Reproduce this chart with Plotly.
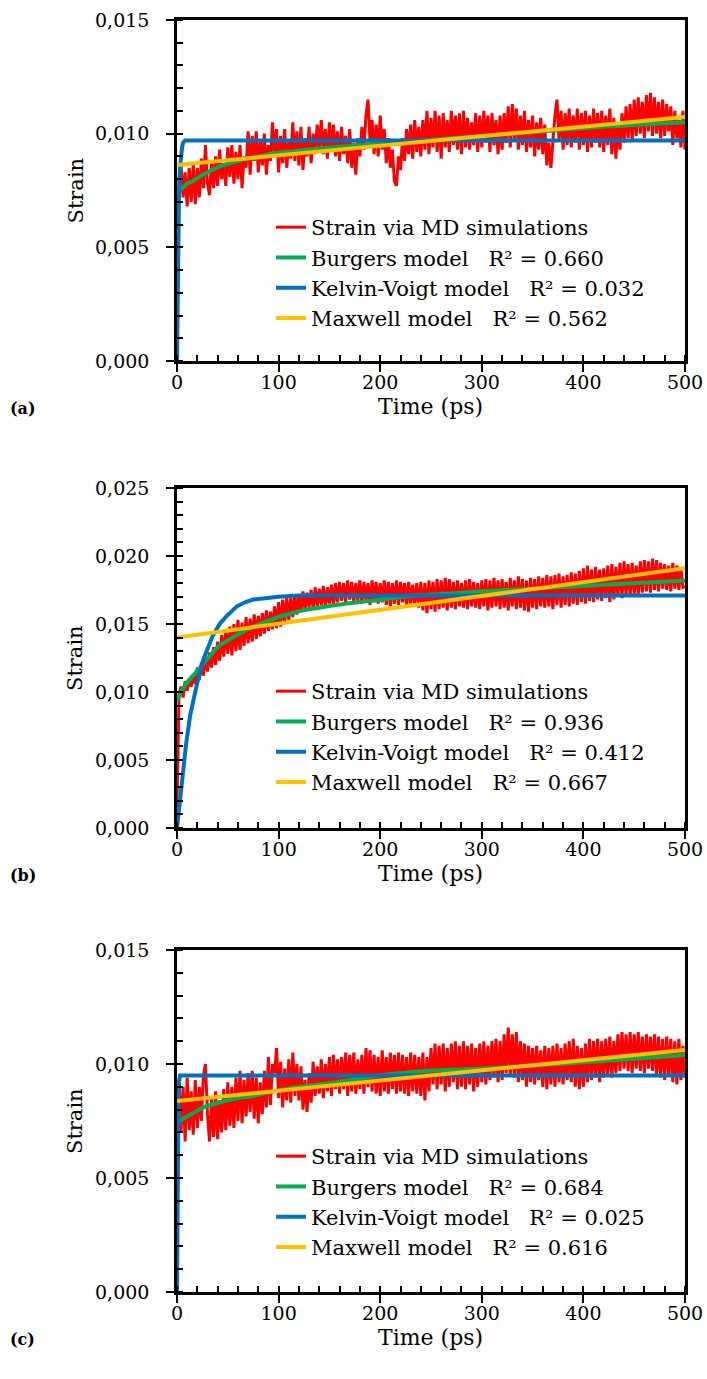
import plotly.graph_objects as go

# sample times of the MD strain traces (ps)
t_md = list(range(0, 501, 2))

strain_a = [
    0.0055, 0.0080, 0.0086, 0.0072, 0.0083, 0.0068, 0.0085, 0.0070, 0.0087, 0.0069,
    0.0085, 0.0072, 0.0089, 0.0076, 0.0095, 0.0078, 0.0073, 0.0088, 0.0076, 0.0090,
    0.0077, 0.0093, 0.0080, 0.0087, 0.0077, 0.0094, 0.0081, 0.0095, 0.0078, 0.0092,
    0.0080, 0.0095, 0.0076, 0.0090, 0.0085, 0.0101, 0.0082, 0.0099, 0.0088, 0.0101,
    0.0083, 0.0097, 0.0086, 0.0100, 0.0082, 0.0095, 0.0088, 0.0105, 0.0090, 0.0102,
    0.0083, 0.0099, 0.0087, 0.0102, 0.0085, 0.0097, 0.0089, 0.0105, 0.0088, 0.0101,
    0.0086, 0.0103, 0.0084, 0.0098, 0.0090, 0.0103, 0.0087, 0.0100, 0.0091, 0.0104,
    0.0093, 0.0106, 0.0091, 0.0102, 0.0089, 0.0105, 0.0092, 0.0104, 0.0090, 0.0101,
    0.0088, 0.0103, 0.0091, 0.0099, 0.0087, 0.0102, 0.0085, 0.0096, 0.0082, 0.0098,
    0.0090, 0.0103, 0.0093, 0.0108, 0.0115, 0.0097, 0.0106, 0.0091, 0.0104, 0.0090,
    0.0108, 0.0093, 0.0102, 0.0087, 0.0098, 0.0085, 0.0093, 0.0079, 0.0077, 0.0090,
    0.0084, 0.0098, 0.0088, 0.0102, 0.0091, 0.0104, 0.0089, 0.0106, 0.0092, 0.0103,
    0.0090, 0.0106, 0.0093, 0.0110, 0.0091, 0.0107, 0.0094, 0.0110, 0.0092, 0.0108,
    0.0089, 0.0109, 0.0094, 0.0106, 0.0092, 0.0110, 0.0095, 0.0108, 0.0093, 0.0109,
    0.0091, 0.0110, 0.0094, 0.0107, 0.0093, 0.0105, 0.0095, 0.0109, 0.0092, 0.0108,
    0.0094, 0.0110, 0.0096, 0.0108, 0.0092, 0.0109, 0.0095, 0.0106, 0.0091, 0.0108,
    0.0093, 0.0109, 0.0096, 0.0112, 0.0094, 0.0113, 0.0097, 0.0111, 0.0093, 0.0108,
    0.0095, 0.0110, 0.0092, 0.0106, 0.0094, 0.0108, 0.0090, 0.0105, 0.0093, 0.0107,
    0.0091, 0.0104, 0.0086, 0.0096, 0.0085, 0.0099, 0.0108, 0.0115, 0.0097, 0.0110,
    0.0093, 0.0109, 0.0095, 0.0111, 0.0094, 0.0108, 0.0096, 0.0111, 0.0093, 0.0109,
    0.0095, 0.0110, 0.0092, 0.0108, 0.0094, 0.0111, 0.0096, 0.0109, 0.0094, 0.0110,
    0.0092, 0.0108, 0.0095, 0.0111, 0.0091, 0.0107, 0.0089, 0.0105, 0.0093, 0.0109,
    0.0096, 0.0112, 0.0098, 0.0113, 0.0097, 0.0115, 0.0099, 0.0116, 0.0100, 0.0114,
    0.0098, 0.0117, 0.0101, 0.0118, 0.0099, 0.0116, 0.0100, 0.0114, 0.0098, 0.0115,
    0.0099, 0.0113, 0.0101, 0.0112, 0.0095, 0.0110, 0.0098, 0.0106, 0.0094, 0.0110,
    0.0093,
]

strain_b = [
    0.0015, 0.0098, 0.0104, 0.0096, 0.0108, 0.0101, 0.0110, 0.0104, 0.0113, 0.0106,
    0.0118, 0.0109, 0.0122, 0.0112, 0.0126, 0.0115, 0.0129, 0.0118, 0.0133, 0.0120,
    0.0137, 0.0123, 0.0142, 0.0126, 0.0146, 0.0128, 0.0148, 0.0127, 0.0150, 0.0130,
    0.0153, 0.0131, 0.0151, 0.0134, 0.0155, 0.0136, 0.0154, 0.0137, 0.0157, 0.0139,
    0.0156, 0.0141, 0.0158, 0.0143, 0.0160, 0.0145, 0.0159, 0.0146, 0.0163, 0.0147,
    0.0166, 0.0148, 0.0168, 0.0150, 0.0170, 0.0153, 0.0169, 0.0155, 0.0172, 0.0157,
    0.0171, 0.0159, 0.0174, 0.0160, 0.0173, 0.0162, 0.0175, 0.0161, 0.0177, 0.0163,
    0.0176, 0.0164, 0.0178, 0.0162, 0.0177, 0.0165, 0.0179, 0.0163, 0.0180, 0.0166,
    0.0181, 0.0167, 0.0180, 0.0166, 0.0182, 0.0168, 0.0181, 0.0166, 0.0180, 0.0167,
    0.0182, 0.0165, 0.0181, 0.0167, 0.0180, 0.0164, 0.0182, 0.0166, 0.0181, 0.0165,
    0.0180, 0.0166, 0.0182, 0.0164, 0.0181, 0.0163, 0.0180, 0.0165, 0.0182, 0.0164,
    0.0181, 0.0166, 0.0180, 0.0163, 0.0181, 0.0165, 0.0179, 0.0164, 0.0180, 0.0162,
    0.0181, 0.0160, 0.0180, 0.0158, 0.0182, 0.0161, 0.0181, 0.0159, 0.0183, 0.0161,
    0.0182, 0.0162, 0.0184, 0.0160, 0.0183, 0.0162, 0.0181, 0.0161, 0.0182, 0.0163,
    0.0180, 0.0162, 0.0182, 0.0161, 0.0183, 0.0163, 0.0181, 0.0162, 0.0180, 0.0161,
    0.0182, 0.0163, 0.0183, 0.0160, 0.0182, 0.0162, 0.0184, 0.0163, 0.0182, 0.0161,
    0.0183, 0.0162, 0.0181, 0.0160, 0.0184, 0.0163, 0.0182, 0.0161, 0.0185, 0.0162,
    0.0183, 0.0160, 0.0182, 0.0159, 0.0184, 0.0162, 0.0183, 0.0161, 0.0185, 0.0163,
    0.0184, 0.0162, 0.0186, 0.0163, 0.0185, 0.0161, 0.0186, 0.0164, 0.0187, 0.0162,
    0.0185, 0.0164, 0.0186, 0.0163, 0.0188, 0.0165, 0.0187, 0.0164, 0.0189, 0.0166,
    0.0191, 0.0165, 0.0193, 0.0167, 0.0190, 0.0166, 0.0192, 0.0168, 0.0190, 0.0167,
    0.0191, 0.0169, 0.0193, 0.0166, 0.0194, 0.0168, 0.0192, 0.0170, 0.0195, 0.0169,
    0.0196, 0.0171, 0.0194, 0.0170, 0.0195, 0.0172, 0.0193, 0.0171, 0.0196, 0.0173,
    0.0197, 0.0174, 0.0196, 0.0173, 0.0198, 0.0175, 0.0197, 0.0174, 0.0195, 0.0176,
    0.0194, 0.0175, 0.0193, 0.0174, 0.0195, 0.0176, 0.0193, 0.0175, 0.0191, 0.0177,
    0.0178,
]

strain_c = [
    0.0060, 0.0093, 0.0070, 0.0090, 0.0066, 0.0094, 0.0071, 0.0088, 0.0069, 0.0093,
    0.0072, 0.0090, 0.0075, 0.0095, 0.0100, 0.0078, 0.0066, 0.0085, 0.0068, 0.0088,
    0.0067, 0.0084, 0.0070, 0.0089, 0.0071, 0.0092, 0.0073, 0.0090, 0.0072, 0.0094,
    0.0075, 0.0097, 0.0074, 0.0093, 0.0077, 0.0096, 0.0079, 0.0097, 0.0076, 0.0094,
    0.0074, 0.0092, 0.0078, 0.0097, 0.0081, 0.0103, 0.0082, 0.0100, 0.0096, 0.0107,
    0.0085, 0.0101, 0.0081, 0.0098, 0.0084, 0.0102, 0.0083, 0.0105, 0.0086, 0.0100,
    0.0084, 0.0099, 0.0080, 0.0093, 0.0079, 0.0096, 0.0083, 0.0101, 0.0086, 0.0099,
    0.0087, 0.0102, 0.0085, 0.0100, 0.0088, 0.0103, 0.0086, 0.0104, 0.0089, 0.0102,
    0.0087, 0.0103, 0.0089, 0.0105, 0.0086, 0.0104, 0.0088, 0.0105, 0.0087, 0.0102,
    0.0089, 0.0104, 0.0087, 0.0107, 0.0090, 0.0106, 0.0088, 0.0104, 0.0087, 0.0103,
    0.0086, 0.0106, 0.0088, 0.0103, 0.0087, 0.0105, 0.0089, 0.0104, 0.0087, 0.0105,
    0.0088, 0.0104, 0.0087, 0.0103, 0.0086, 0.0105, 0.0088, 0.0104, 0.0087, 0.0103,
    0.0086, 0.0105, 0.0084, 0.0103, 0.0088, 0.0107, 0.0091, 0.0109, 0.0089, 0.0108,
    0.0091, 0.0109, 0.0088, 0.0107, 0.0090, 0.0109, 0.0092, 0.0110, 0.0089, 0.0108,
    0.0090, 0.0110, 0.0089, 0.0108, 0.0091, 0.0109, 0.0088, 0.0107, 0.0090, 0.0109,
    0.0092, 0.0110, 0.0091, 0.0108, 0.0093, 0.0110, 0.0094, 0.0111, 0.0092, 0.0110,
    0.0093, 0.0113, 0.0096, 0.0116, 0.0095, 0.0113, 0.0094, 0.0114, 0.0092, 0.0110,
    0.0093, 0.0109, 0.0090, 0.0108, 0.0092, 0.0107, 0.0091, 0.0108, 0.0093, 0.0106,
    0.0090, 0.0108, 0.0089, 0.0107, 0.0091, 0.0108, 0.0090, 0.0109, 0.0092, 0.0107,
    0.0091, 0.0109, 0.0093, 0.0110, 0.0092, 0.0111, 0.0090, 0.0108, 0.0089, 0.0107,
    0.0090, 0.0109, 0.0092, 0.0111, 0.0093, 0.0110, 0.0094, 0.0111, 0.0092, 0.0110,
    0.0094, 0.0111, 0.0095, 0.0112, 0.0094, 0.0110, 0.0096, 0.0113, 0.0097, 0.0114,
    0.0098, 0.0113, 0.0097, 0.0114, 0.0096, 0.0113, 0.0098, 0.0114, 0.0097, 0.0112,
    0.0096, 0.0113, 0.0098, 0.0112, 0.0097, 0.0113, 0.0095, 0.0112, 0.0094, 0.0111,
    0.0093, 0.0112, 0.0095, 0.0111, 0.0092, 0.0110, 0.0091, 0.0111, 0.0093, 0.0108,
    0.0094,
]

# model fits
t_burgers_a = [0, 2, 5, 10, 15, 22, 30, 45, 60, 75, 90, 110, 130, 155, 180, 210, 240, 270, 300, 360, 420, 500]
burgers_a = [0.0073, 0.0075, 0.0076, 0.0078, 0.0079, 0.0081, 0.0083, 0.0086, 0.0088, 0.00895, 0.0091,
             0.0092, 0.0093, 0.0094, 0.0095, 0.0096, 0.0097, 0.0098, 0.0099, 0.0101, 0.0103, 0.0105]
t_kv_a = [0, 0.5, 1, 1.5, 2, 3, 4, 5, 6, 8, 10, 500]
kv_a = [0.0, 0.0030, 0.0050, 0.0063, 0.0073, 0.0085, 0.0091, 0.0094, 0.0096, 0.0097, 0.0097, 0.0097]
t_maxwell_a = [0, 500]
maxwell_a = [0.00862, 0.01073]

t_burgers_b = [0, 3, 10, 18, 26, 33, 40, 50, 59, 75, 92, 108, 124, 140, 157, 190, 223, 260, 300, 350, 400, 450, 500]
burgers_b = [0.0093, 0.0099, 0.0107, 0.0114, 0.0121, 0.0127, 0.0133, 0.0138, 0.0142, 0.0148, 0.0153, 0.0157,
             0.0160, 0.0162, 0.0164, 0.0167, 0.0170, 0.0172, 0.0174, 0.0176, 0.0178, 0.0180, 0.0182]
t_kv_b = [0, 3, 6, 9, 13, 17, 20, 26, 30, 35, 42, 49, 59, 67, 75, 85, 100, 120, 150, 500]
kv_b = [0.0, 0.0023, 0.0044, 0.0062, 0.0083, 0.0098, 0.0107, 0.0124, 0.0132, 0.0141, 0.0150, 0.0156,
        0.0163, 0.0166, 0.0168, 0.0169, 0.0170, 0.0171, 0.0171, 0.0171]
t_maxwell_b = [0, 500]
maxwell_b = [0.0140, 0.0191]

t_burgers_c = [0, 3, 10, 18, 26, 40, 59, 75, 92, 120, 157, 200, 249, 300, 375, 440, 500]
burgers_c = [0.0073, 0.0075, 0.0077, 0.0079, 0.0081, 0.0083, 0.0085, 0.0086, 0.00877, 0.0090, 0.0092,
             0.0095, 0.0097, 0.0098, 0.0100, 0.0102, 0.0104]
t_kv_c = [0, 0.3, 0.6, 1, 1.5, 2, 3, 500]
kv_c = [0.0, 0.0035, 0.0058, 0.0075, 0.0087, 0.0092, 0.0095, 0.0095]
t_maxwell_c = [0, 500]
maxwell_c = [0.00838, 0.01061]

r2_burgers = ['0.660', '0.936', '0.684']
r2_kv = ['0.032', '0.412', '0.025']
r2_maxwell = ['0.562', '0.667', '0.616']
y_max = [0.015, 0.025, 0.015]
panel_tags = ['(a)', '(b)', '(c)']

W, H = 707, 1379
FONT = 'DejaVu Serif'
RED, GREEN, BLUE, YELLOW = '#FF0000', '#00B050', '#0070C0', '#FFC000'

# pixel boxes of the three plot areas (top, bottom)
boxes = [(20, 361), (488, 828), (950, 1292)]
x_left, x_right = 177, 685
legend_top = [207, 671, 1136]

md = [strain_a, strain_b, strain_c]
burgers = [(t_burgers_a, burgers_a), (t_burgers_b, burgers_b), (t_burgers_c, burgers_c)]
kv = [(t_kv_a, kv_a), (t_kv_b, kv_b), (t_kv_c, kv_c)]
maxwell = [(t_maxwell_a, maxwell_a), (t_maxwell_b, maxwell_b), (t_maxwell_c, maxwell_c)]

fig = go.Figure()
sp = '\u00a0\u00a0\u00a0'
annotations = []
layout = {}

for i in range(3):
    n = '' if i == 0 else str(i + 1)
    xa, ya = 'x' + n, 'y' + n
    leg = 'legend' + n
    fig.add_trace(go.Scatter(x=t_md, y=md[i], mode='lines', name='Strain via MD simulations',
                             line=dict(color=RED, width=3), xaxis=xa, yaxis=ya, legend=leg))
    fig.add_trace(go.Scatter(x=burgers[i][0], y=burgers[i][1], mode='lines', line_shape='spline',
                             name=f'Burgers model{sp}R² = {r2_burgers[i]}',
                             line=dict(color=GREEN, width=4), xaxis=xa, yaxis=ya, legend=leg))
    fig.add_trace(go.Scatter(x=kv[i][0], y=kv[i][1], mode='lines',
                             name=f'Kelvin-Voigt model{sp}R² = {r2_kv[i]}',
                             line=dict(color=BLUE, width=4), xaxis=xa, yaxis=ya, legend=leg))
    fig.add_trace(go.Scatter(x=maxwell[i][0], y=maxwell[i][1], mode='lines',
                             name=f'Maxwell model{sp}R² = {r2_maxwell[i]}',
                             line=dict(color=YELLOW, width=4), xaxis=xa, yaxis=ya, legend=leg))

    top, bot = boxes[i]
    dom_y = [1 - bot / H, 1 - top / H]
    layout['xaxis' + n] = dict(
        domain=[x_left / W, x_right / W], range=[0, 500], anchor=ya,
        dtick=100, ticks='outside', ticklen=8, tickwidth=2, tickcolor='black',
        minor=dict(dtick=20, ticks='inside', ticklen=6, tickwidth=1.5, tickcolor='black'),
        showline=True, linecolor='black', linewidth=2.5, mirror=True,
        showgrid=False, zeroline=False, ticklabelstandoff=-6, ticklabeloverflow='allow',
        tickfont=dict(family=FONT, size=19, color='black'),
    )
    layout['yaxis' + n] = dict(
        domain=dom_y, range=[0, y_max[i]], anchor=xa,
        dtick=0.005, tickformat='.3f', ticks='outside', ticklen=8, tickwidth=2, tickcolor='black',
        minor=dict(dtick=0.001, ticks='inside', ticklen=6, tickwidth=1.5, tickcolor='black'),
        showline=True, linecolor='black', linewidth=2.5, mirror=True,
        showgrid=False, zeroline=False, ticklabelstandoff=13,
        tickfont=dict(family=FONT, size=19, color='black'),
    )
    layout[leg] = dict(
        x=271 / W, y=1 - legend_top[i] / H, xanchor='left', yanchor='top',
        bgcolor='rgba(0,0,0,0)', borderwidth=0,
        font=dict(family=FONT, size=21, color='black'),
    )
    annotations.append(dict(text='Strain', x=75 / W, y=1 - (top + bot) / 2 / H, xref='paper', yref='paper',
                            xanchor='center', yanchor='middle', textangle=-90, showarrow=False,
                            font=dict(family=FONT, size=21, color='black')))
    annotations.append(dict(text='Time (ps)', x=(x_left + x_right) / 2 / W, y=1 - (bot + 45) / H,
                            xref='paper', yref='paper', xanchor='center', yanchor='middle', showarrow=False,
                            font=dict(family=FONT, size=22, color='black')))
    annotations.append(dict(text='<b>' + panel_tags[i] + '</b>', x=8 / W, y=1 - (bot + 47) / H,
                            xref='paper', yref='paper', xanchor='left', yanchor='middle', showarrow=False,
                            font=dict(family=FONT, size=16, color='black')))

fig.update_layout(
    width=W, height=H,
    margin=dict(l=0, r=0, t=0, b=0, autoexpand=False),
    paper_bgcolor='white', plot_bgcolor='white',
    separators=', ',
    showlegend=True,
    annotations=annotations,
    **layout,
)

# drop the default body margin so the 707x1379 figure fills the window exactly
fig.write_html('out.html', config={'displayModeBar': False},
               post_script="document.body.style.margin = '0';")
